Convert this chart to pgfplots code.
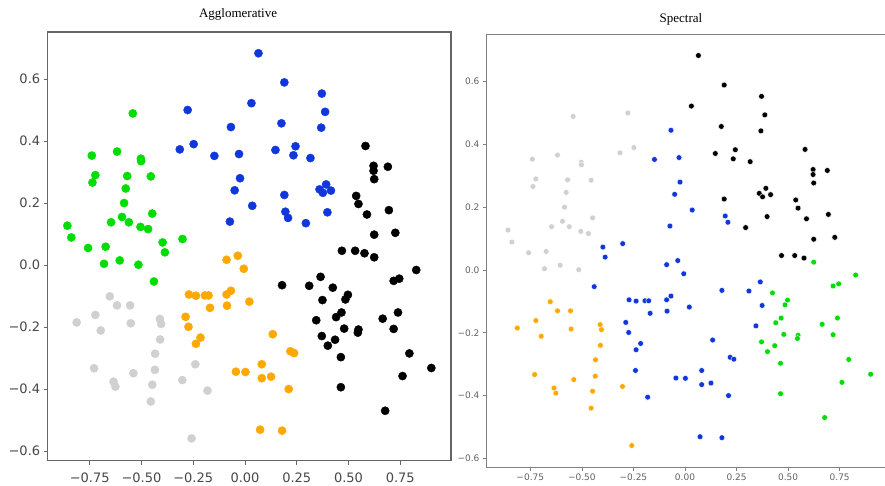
\documentclass[border=0pt]{standalone}
\usepackage{pgfplots}
\usepackage{pgfplotstable}
\pgfplotsset{compat=1.18}
\usepackage{fontspec}
\setmainfont{Liberation Serif}
\newfontfamily\tickfont{DejaVu Sans}
\definecolor{cgreen}{RGB}{0,221,0}
\definecolor{cblue}{RGB}{15,55,220}
\definecolor{corange}{RGB}{255,168,0}
\definecolor{cgray}{RGB}{208,208,208}
\definecolor{cblack}{RGB}{0,0,0}

\pgfplotstableread{
x y L R
-0.858 0.127 g y
-0.839 0.089 g y
-0.758 0.055 g y
-0.673 0.059 g y
-0.740 0.353 g y
-0.723 0.290 g y
-0.737 0.266 g y
-0.618 0.366 g y
-0.569 0.287 g y
-0.576 0.247 g y
-0.584 0.200 g y
-0.594 0.155 g y
-0.561 0.138 g y
-0.647 0.138 g y
-0.503 0.343 g y
-0.502 0.335 g y
-0.455 0.286 g y
-0.448 0.166 g y
-0.505 0.123 g y
-0.468 0.116 g y
-0.542 0.489 g y
-0.398 0.073 g b
-0.302 0.084 g b
-0.387 0.041 g b
-0.681 0.004 g y
-0.605 0.015 g y
-0.515 0.001 g y
-0.440 -0.053 g b
0.065 0.683 b k
0.190 0.589 b k
0.371 0.553 b k
0.387 0.494 b k
0.368 0.443 b k
0.176 0.457 b k
0.031 0.522 b k
-0.277 0.500 b y
-0.315 0.373 b y
-0.248 0.390 b y
-0.148 0.352 b b
-0.068 0.445 b b
-0.029 0.358 b b
-0.024 0.280 b b
-0.050 0.241 b b
0.035 0.191 b b
-0.073 0.140 b b
0.147 0.371 b k
0.244 0.383 b k
0.234 0.354 b k
0.316 0.345 b k
0.190 0.226 b k
0.195 0.172 b b
0.208 0.152 b b
0.294 0.135 b k
0.360 0.244 b k
0.376 0.233 b k
0.392 0.260 b k
0.415 0.240 b k
0.398 0.170 b k
0.582 0.384 k k
0.621 0.320 k k
0.621 0.304 k k
0.690 0.317 k k
0.624 0.277 k k
0.537 0.223 k k
0.548 0.197 k k
0.589 0.163 k k
0.695 0.177 k k
0.624 0.098 k k
0.726 0.104 k k
0.468 0.046 k k
0.532 0.046 k k
0.577 0.038 k k
0.624 0.025 k g
0.827 -0.016 k g
0.179 -0.065 k b
0.310 -0.067 k b
0.365 -0.038 k b
0.374 -0.113 k b
0.424 -0.073 k g
0.497 -0.096 k g
0.485 -0.111 k g
0.466 -0.153 k g
0.440 -0.168 k g
0.344 -0.178 k b
0.371 -0.229 k g
0.400 -0.260 k g
0.435 -0.241 k g
0.479 -0.205 k g
0.548 -0.208 k g
0.545 -0.218 k g
0.463 -0.297 k g
0.463 -0.394 k g
0.665 -0.173 k g
0.718 -0.206 k g
0.739 -0.153 k g
0.718 -0.051 k g
0.745 -0.044 k g
0.794 -0.285 k g
0.761 -0.358 k g
0.900 -0.332 k g
0.677 -0.470 k g
-0.653 -0.101 y o
-0.618 -0.130 y o
-0.555 -0.130 y o
-0.723 -0.161 y o
-0.813 -0.185 y o
-0.697 -0.211 y o
-0.552 -0.188 y o
-0.411 -0.174 y o
-0.405 -0.190 y o
-0.410 -0.240 y o
-0.434 -0.286 y o
-0.435 -0.338 y o
-0.448 -0.386 y o
-0.455 -0.440 y o
-0.729 -0.333 y o
-0.635 -0.376 y o
-0.626 -0.392 y o
-0.539 -0.349 y o
-0.303 -0.371 y o
-0.240 -0.320 y b
-0.181 -0.405 y b
-0.258 -0.559 y o
-0.089 0.017 o b
-0.035 0.030 o b
-0.006 -0.012 o b
-0.271 -0.095 o b
-0.237 -0.099 o b
-0.194 -0.098 o b
-0.176 -0.098 o b
-0.169 -0.138 o b
-0.287 -0.167 o b
-0.273 -0.199 o b
-0.237 -0.254 o b
-0.215 -0.234 o b
-0.089 -0.095 o b
-0.068 -0.083 o b
-0.087 -0.131 o b
0.021 -0.118 o b
0.134 -0.223 o b
0.219 -0.278 o b
0.237 -0.284 o b
-0.044 -0.344 o b
0.002 -0.345 o b
0.081 -0.320 o b
0.081 -0.365 o b
0.126 -0.360 o b
0.211 -0.400 o b
0.073 -0.531 o b
0.179 -0.534 o b
}\pointdata

\begin{document}
\begin{tikzpicture}
\path[use as bounding box] (0,0) rectangle (885pt,486pt);
\begin{axis}[
  at={(47.7pt,25.3pt)}, anchor=south west,
  scale only axis, width=403.3pt, height=428.7pt,
  xmin=-0.953, xmax=0.995, ymin=-0.631, ymax=0.7516,
  xtick={-0.75,-0.5,-0.25,0,0.25,0.5,0.75},
  xticklabels={−0.75,−0.50,−0.25,0.00,0.25,0.50,0.75},
  ytick={-0.6,-0.4,-0.2,0,0.2,0.4,0.6},
  yticklabels={−0.6,−0.4,−0.2,0.0,0.2,0.4,0.6},
  xtick pos=bottom, ytick pos=left,
  tick align=outside, major tick length=4pt,
  tick style={color=black!60, line width=0.8pt},
  axis line style={color=black!60, line width=1.2pt},
  ticklabel style={font=\tickfont\fontsize{13}{13}\selectfont, text=black!72},
  xticklabel style={yshift=-4.5pt},
  title=Agglomerative,
  title style={at={(0.472,1)}, anchor=base, yshift=8pt, font=\fontsize{13}{13}\selectfont},
]
\addplot[scatter, only marks, mark=*, mark size=4.1pt,
  scatter src=explicit symbolic,
  scatter/classes={
    g={mark=*, fill=cgreen, draw=cgreen},
    b={mark=*, fill=cblue, draw=cblue},
    k={mark=*, fill=cblack, draw=cblack},
    y={mark=*, fill=cgray, draw=cgray},
    o={mark=*, fill=corange, draw=corange}}]
  table[x=x, y=y, meta=L] {\pointdata};
\end{axis}
\begin{axis}[
  at={(486pt,18.3pt)}, anchor=south west,
  scale only axis, width=403.2pt, height=433.4pt,
  xmin=-0.9646, xmax=0.99, ymin=-0.6296, ymax=0.7506,
  xtick={-0.75,-0.5,-0.25,0,0.25,0.5,0.75},
  xticklabels={−0.75,−0.50,−0.25,0.00,0.25,0.50,0.75},
  ytick={-0.6,-0.4,-0.2,0,0.2,0.4,0.6},
  yticklabels={−0.6,−0.4,−0.2,0.0,0.2,0.4,0.6},
  xtick pos=bottom, ytick pos=left,
  tick align=outside, major tick length=3pt,
  tick style={color=black!50, line width=0.6pt},
  axis line style={color=black!50, line width=0.9pt},
  ticklabel style={font=\tickfont\fontsize{9}{9}\selectfont, text=black!62},
  title=Spectral,
  title style={at={(0.4836,1)}, anchor=base, yshift=5.6pt, font=\fontsize{13}{13}\selectfont},
]
\addplot[scatter, only marks, mark=*, mark size=2.9pt,
  scatter src=explicit symbolic,
  scatter/classes={
    g={mark=*, fill=cgreen, draw=white, line width=0.4pt},
    b={mark=*, fill=cblue, draw=white, line width=0.4pt},
    k={mark=*, fill=cblack, draw=white, line width=0.4pt},
    y={mark=*, fill=cgray, draw=white, line width=0.4pt},
    o={mark=*, fill=corange, draw=white, line width=0.4pt}}]
  table[x=x, y=y, meta=R] {\pointdata};
\end{axis}
\end{tikzpicture}
\end{document}
